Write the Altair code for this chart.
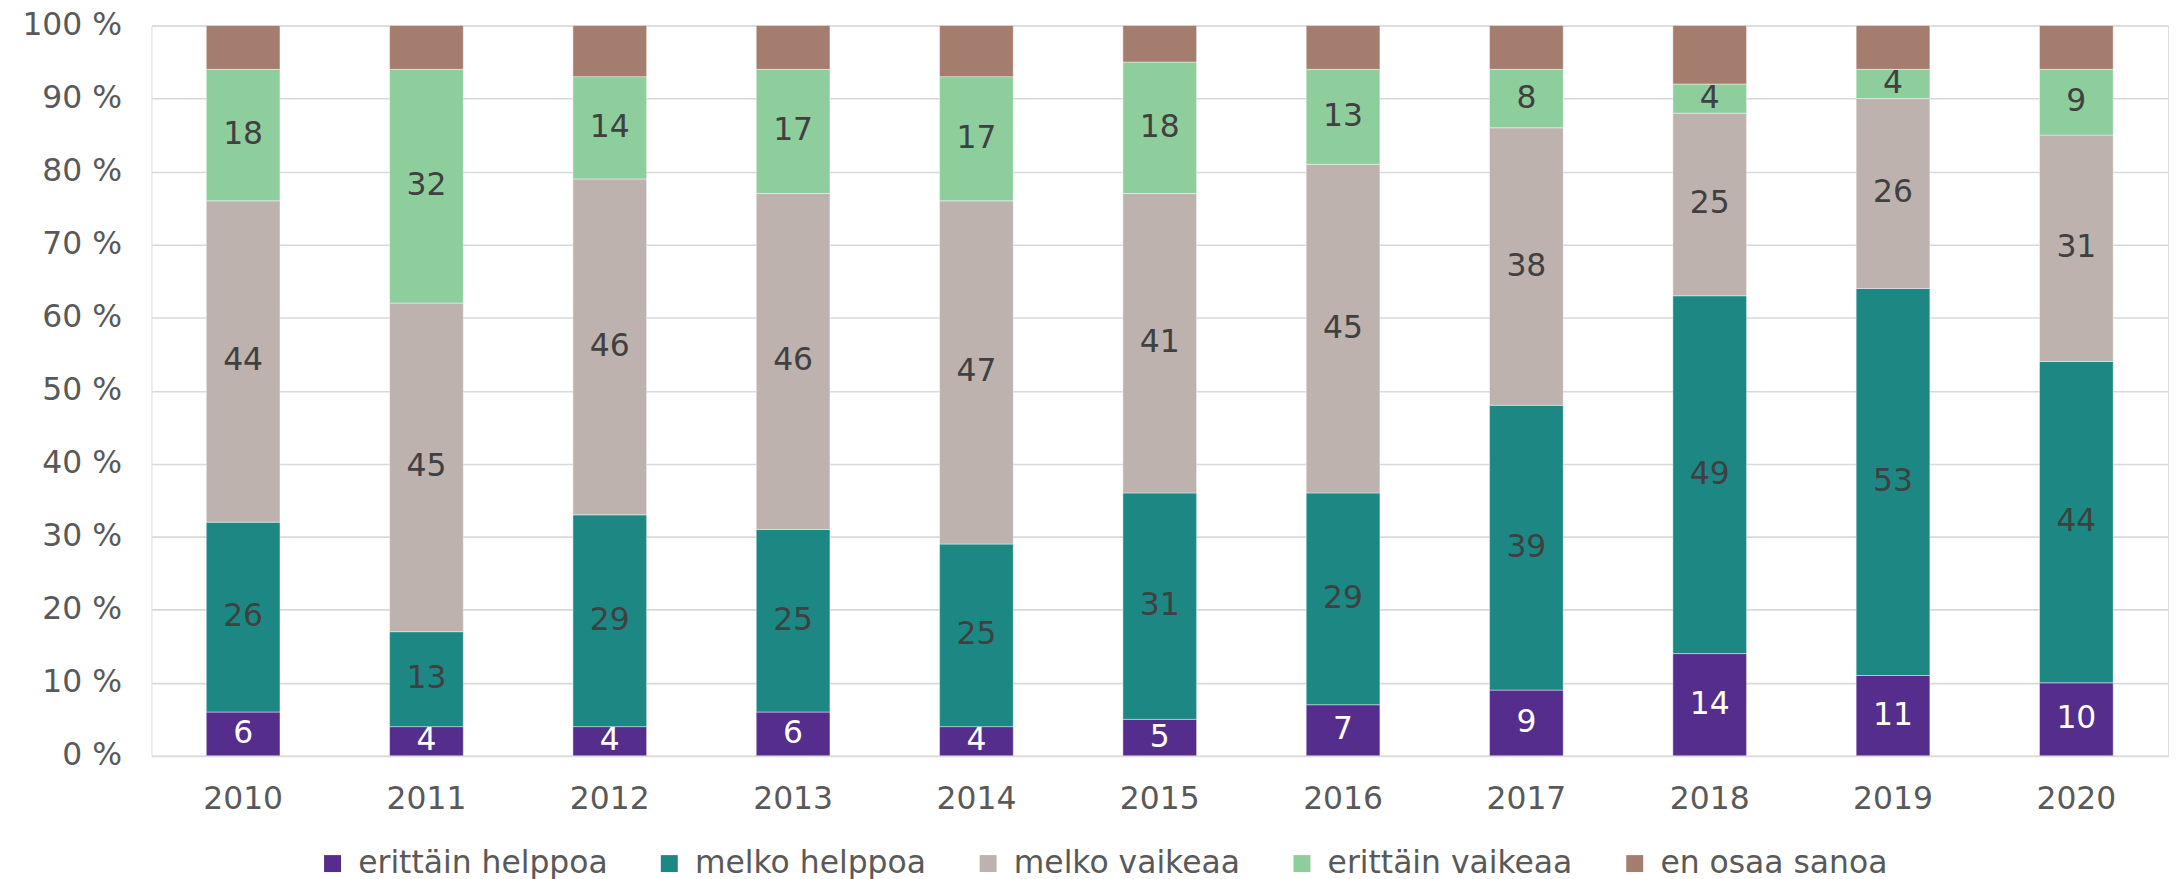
import altair as alt
import pandas as pd

years = ["2010", "2011", "2012", "2013", "2014", "2015", "2016", "2017", "2018", "2019", "2020"]
categories = ["erittäin helppoa", "melko helppoa", "melko vaikeaa", "erittäin vaikeaa", "en osaa sanoa"]
colors = ["#552D8C", "#1D8883", "#BDB2AD", "#8ECE9D", "#A57D6F"]

erittain_helppoa = [6, 4, 4, 6, 4, 5, 7, 9, 14, 11, 10]
melko_helppoa = [26, 13, 29, 25, 25, 31, 29, 39, 49, 53, 44]
melko_vaikeaa = [44, 45, 46, 46, 47, 41, 45, 38, 25, 26, 31]
erittain_vaikeaa = [18, 32, 14, 17, 17, 18, 13, 8, 4, 4, 9]
en_osaa_sanoa = [6, 6, 7, 6, 7, 5, 6, 6, 8, 6, 6]

series = [erittain_helppoa, melko_helppoa, melko_vaikeaa, erittain_vaikeaa, en_osaa_sanoa]
rows = []
for ci, (cat, vals) in enumerate(zip(categories, series)):
    for y, v in zip(years, vals):
        rows.append({"year": y, "category": cat, "value": v, "ord": ci,
                     "lblcol": "#FFFFFF" if ci == 0 else "#404040"})
df = pd.DataFrame(rows)

FONT = "DejaVu Sans"
FS = 31.5

base = alt.Chart(df).transform_stack(
    stack="value", as_=["y0", "y1"], groupby=["year"],
    sort=[alt.SortField("ord", order="ascending")]
).transform_calculate(mid="(datum.y0 + datum.y1) / 2")

x_enc = alt.X("year:N", sort=years, title=None,
              scale=alt.Scale(paddingInner=0.598, paddingOuter=0.299),
              axis=alt.Axis(labelAngle=0, domain=False, ticks=False, labelPadding=28,
                            labelFontSize=FS, labelColor="#595959", labelFont=FONT))

bars = base.mark_bar(stroke="white", strokeWidth=0.6, strokeOpacity=0.7).encode(
    x=x_enc,
    y=alt.Y("y0:Q", scale=alt.Scale(domain=[0, 100], nice=False), title=None,
            axis=alt.Axis(values=list(range(0, 101, 10)), labelExpr="datum.value + ' %'",
                          domain=False, ticks=False, labelPadding=30, labelFontSize=FS,
                          labelColor="#595959", labelFont=FONT,
                          gridColor="#D9D9D9", gridWidth=1.6)),
    y2="y1:Q",
    color=alt.Color("category:N", title=None,
                    scale=alt.Scale(domain=categories, range=colors),
                    legend=alt.Legend(orient="none", legendX=166, legendY=825, direction="horizontal",
                                      columns=5, symbolType="square", symbolSize=289,
                                      symbolStrokeWidth=0, labelFontSize=FS, labelFont=FONT,
                                      labelColor="#595959", labelOffset=10, columnPadding=46,
                                      labelLimit=500, padding=0)),
)

text = base.transform_filter(alt.datum.ord < 4).mark_text(
    fontSize=FS, font=FONT, baseline="middle", align="center"
).encode(
    x=alt.X("year:N", sort=years),
    y=alt.Y("mid:Q"),
    text=alt.Text("value:Q"),
    color=alt.Color("lblcol:N", scale=None),
)

chart = alt.layer(bars, text).properties(
    width=2024, height=733,
    autosize=alt.AutoSizeParams(type="none"),
    padding={"left": 144, "top": 16, "right": 2, "bottom": 122},
).configure_view(strokeWidth=0, stroke="transparent").configure(background="white")

chart.save("out.html", embed_options={"renderer": "svg", "actions": False})
